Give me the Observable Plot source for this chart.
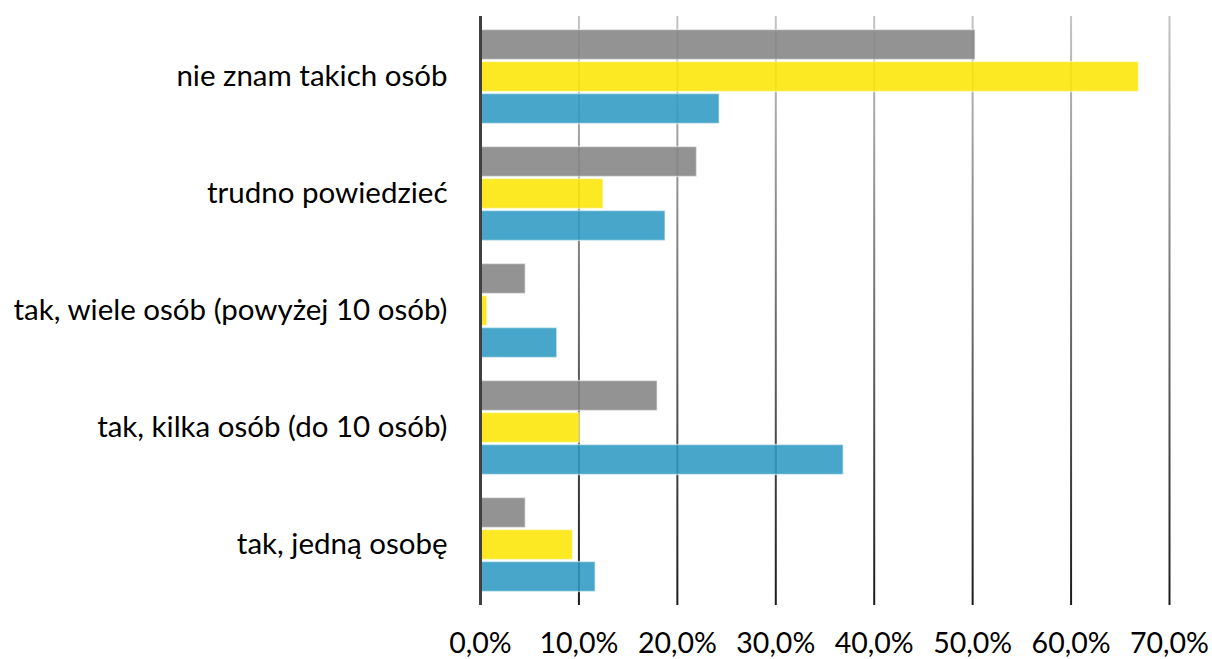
<!DOCTYPE html>
<html>
<head>
<meta charset="utf-8">
<script src="https://cdn.jsdelivr.net/npm/d3@7"></script>
<script src="https://cdn.jsdelivr.net/npm/@observablehq/plot@0.6"></script>
<style>
  html, body { margin: 0; padding: 0; background: #fff; }
  #chart svg { display: block; }
  #chart g[aria-label='y-axis tick label'] { font-size: 29.5px; }
  #chart g[aria-label='x-axis tick label'] { font-size: 28.5px; }
</style>
</head>
<body>
<div id="chart"></div>
<script>
const categories = [
  "nie znam takich osób",
  "trudno powiedzieć",
  "tak, wiele osób (powyżej 10 osób)",
  "tak, kilka osób (do 10 osób)",
  "tak, jedną osobę"
];
const seriesGray   = [50.3, 22.0, 4.6, 18.0, 4.6];
const seriesYellow = [66.9, 12.5, 0.7, 10.1, 9.4];
const seriesBlue   = [24.3, 18.8, 7.8, 36.9, 11.7];
const xTicks = [0, 10, 20, 30, 40, 50, 60, 70];

const rows = (vals) => categories.map((c, i) => ({category: c, value: vals[i]}));

const W = 1212, H = 659, mT = 16, mB = 54, mL = 480, mR = 43;
const font = "Lato, 'Open Sans', sans-serif";
const barStyle = {stroke: "#ffffff", strokeOpacity: 0.5, strokeWidth: 1.5, fillOpacity: 0.88};

const plot = Plot.plot({
  width: W, height: H,
  marginTop: mT, marginBottom: mB, marginLeft: mL, marginRight: mR,
  style: {fontFamily: font, fontSize: "28px", color: "#000", background: "#fff"},
  x: {domain: [0, 70], ticks: xTicks, tickFormat: d => d.toFixed(1).replace(".", ",") + "%", tickSize: 0, tickPadding: 27, label: null},
  y: {domain: categories, paddingInner: 0.185, paddingOuter: 0.0925, tickSize: 0, tickPadding: 33, label: null},
  marks: [
    Plot.gridX(xTicks, {stroke: "#000", strokeOpacity: 1, strokeWidth: 2}),
    Plot.barX(rows(seriesGray), {x: "value", y: "category", fill: "#848484", insetTop: 0.5, insetBottom: 64.5, ...barStyle}),
    Plot.barX(rows(seriesYellow), {x: "value", y: "category", fill: "#fce606", insetTop: 32.5, insetBottom: 32.5, ...barStyle}),
    Plot.barX(rows(seriesBlue), {x: "value", y: "category", fill: "#2d9ac1", insetTop: 64.5, insetBottom: 0.5, ...barStyle}),
    Plot.ruleX([0], {stroke: "#404040", strokeWidth: 3})
  ]
});

// gradient for the grid lines (light at top, dark at bottom)
const svg = d3.select(plot);
const defs = svg.insert("defs", ":first-child");
const grad = defs.append("linearGradient")
  .attr("id", "gridGrad").attr("gradientUnits", "userSpaceOnUse")
  .attr("x1", 0).attr("x2", 0).attr("y1", mT).attr("y2", H - mB);
grad.append("stop").attr("offset", "0%").attr("stop-color", "#c4c4c4");
grad.append("stop").attr("offset", "100%").attr("stop-color", "#1a1a1a");
svg.selectAll("g[aria-label='x-grid']").attr("stroke", "url(#gridGrad)")
  .selectAll("line").attr("stroke", "url(#gridGrad)");

document.getElementById("chart").appendChild(plot);
</script>
</body>
</html>
